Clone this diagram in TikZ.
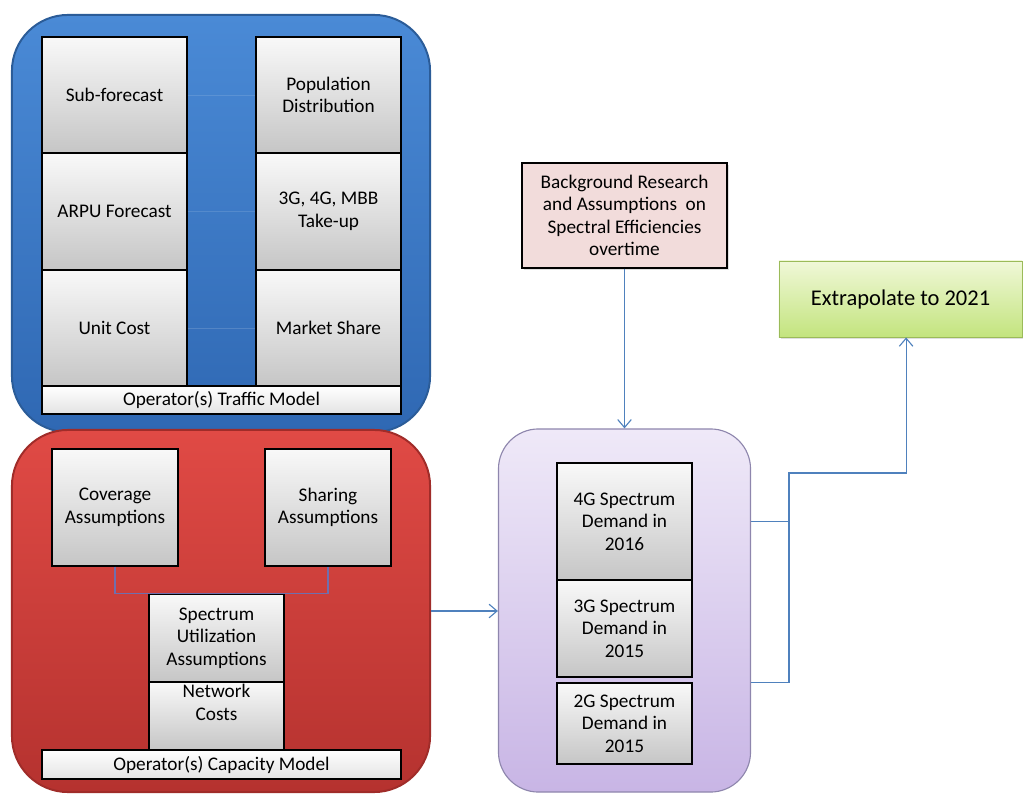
\documentclass[tikz,border=0pt]{standalone}
\usepackage{fontspec}
\setmainfont{Carlito}
\usetikzlibrary{arrows.meta,shadows}
\definecolor{bluetop}{HTML}{4A8AD6}
\definecolor{bluebot}{HTML}{2F68B3}
\definecolor{blueedge}{HTML}{2B5C98}
\definecolor{redtop}{HTML}{E04A45}
\definecolor{redbot}{HTML}{B5322F}
\definecolor{rededge}{HTML}{A02C29}
\definecolor{purptop}{HTML}{EFE9F8}
\definecolor{purpbot}{HTML}{C8B5E5}
\definecolor{purpedge}{HTML}{8E86AD}
\definecolor{pinkbg}{HTML}{F2DCDB}
\definecolor{greentop}{HTML}{F0F8D8}
\definecolor{greenbot}{HTML}{C3E47E}
\definecolor{greenedge}{HTML}{9BBB59}
\definecolor{linkblue}{HTML}{4F81BD}
\definecolor{bracket}{HTML}{6F6FAE}

\begin{document}
\begin{tikzpicture}[x=0.025cm, y=-0.025cm, font=\fontsize{13.7}{16}\selectfont,
  >={Straight Barb[length=2mm,width=3.4mm]},
  panel/.style={line width=1.4pt, rounded corners=1.4cm},
  cell/.style={draw=black, line width=0.8pt, top color=gray!5, bottom color=gray!45, align=center, inner sep=1pt},
  bar/.style={cell, top color=white, bottom color=gray!22, minimum width=8.975cm},
  link/.style={draw=linkblue, line width=0.8pt}]
  \useasboundingbox (0,0) rectangle (1023,794);
  % traffic model
  \node[panel, draw=blueedge, top color=bluetop, bottom color=bluebot, minimum width=10.45cm, minimum height=10.425cm] (traffic) at (221,223.5) {};
  \node[cell, minimum width=3.625cm, minimum height=2.9cm] (subfc) at (114.5,95) {Sub-forecast};
  \node[cell, minimum width=3.625cm, minimum height=2.9cm] (arpu) at (114.5,211.5) {ARPU Forecast};
  \node[cell, minimum width=3.625cm, minimum height=2.9cm] (unitc) at (114.5,328) {Unit Cost};
  \node[cell, minimum width=3.625cm, minimum height=2.9cm] (popd) at (328.5,95) {Population\\Distribution};
  \node[cell, minimum width=3.625cm, minimum height=2.9cm] (takeup) at (328.5,211.5) {3G, 4G, MBB\\Take-up};
  \node[cell, minimum width=3.625cm, minimum height=2.9cm] (mshare) at (328.5,328) {Market Share};
  \node[bar, minimum height=0.7cm] (tbar) at (221.5,400) {Operator(s) Traffic Model};
  \draw[white, opacity=0.12] (subfc) -- (popd); \draw[white, opacity=0.12] (arpu) -- (takeup);
  \draw[white, opacity=0.15] (unitc) -- (mshare);
  % capacity model
  \node[panel, draw=rededge, top color=redtop, bottom color=redbot, minimum width=10.45cm, minimum height=9.05cm] (capacity) at (221,611) {};
  \node[cell, minimum width=3.15cm, minimum height=2.925cm] (cover) at (115,507.5) {Coverage\\Assumptions};
  \node[cell, minimum width=3.15cm, minimum height=2.925cm] (share) at (328,507.5) {Sharing\\Assumptions};
  \node[cell, minimum width=3.375cm, minimum height=2.2cm] (util) at (216.5,638) {Spectrum\\Utilization\\Assumptions};
  \node[cell, minimum width=3.375cm, minimum height=1.7cm] (netc) at (216.5,716) {Network\\Costs\\[0.5ex]};
  \node[bar, minimum height=0.725cm] (cbar) at (221.5,764.5) {Operator(s) Capacity Model};
  \draw[bracket, line width=0.8pt] (cover.south) |- (util.north) -| (share.south);
  % spectrum demand
  \node[draw=purpedge, line width=0.8pt, rounded corners=1cm, top color=purptop, bottom color=purpbot, minimum width=6.3cm, minimum height=9.075cm] (demand) at (624.5,610.5) {};
  \node[cell, minimum width=3.375cm, minimum height=2.925cm] (d4) at (624.5,521.5) {4G Spectrum\\Demand in\\2016};
  \node[cell, minimum width=3.375cm, minimum height=2.425cm] (d3) at (624.5,628.5) {3G Spectrum\\Demand in\\2015};
  \node[cell, minimum width=3.375cm, minimum height=2.025cm] (d2) at (624.5,723.5) {2G Spectrum\\Demand in\\2015};
  % inputs and outputs
  \node[draw=black, line width=0.8pt, fill=pinkbg, align=center, minimum width=5.125cm, minimum height=2.625cm, drop shadow={opacity=0.25, shadow xshift=0.6mm, shadow yshift=-0.6mm}] (bgres) at (624.5,215.5) {Background Research\\and Assumptions~ on\\Spectral Efficiencies\\overtime};
  \node[draw=greenedge, line width=0.6pt, top color=greentop, bottom color=greenbot, minimum width=6.075cm, minimum height=1.9cm, font=\fontsize{16}{18}\selectfont, drop shadow={opacity=0.25, shadow xshift=0.6mm, shadow yshift=-0.6mm}] (extrap) at (900.5,299) {Extrapolate to 2021};
  \coordinate (jn) at (789,473);
  \draw[link, ->] (bgres) -- (demand);
  \draw[link, ->] (capacity.east) -- (capacity.east -| demand.west);
  \draw[link] (d4 -| demand.east) -- (d4 -| jn);
  \draw[link, ->] (d2.north -| demand.east) -| (jn) -| ([xshift=0.14cm]extrap.south);
\end{tikzpicture}
\end{document}
